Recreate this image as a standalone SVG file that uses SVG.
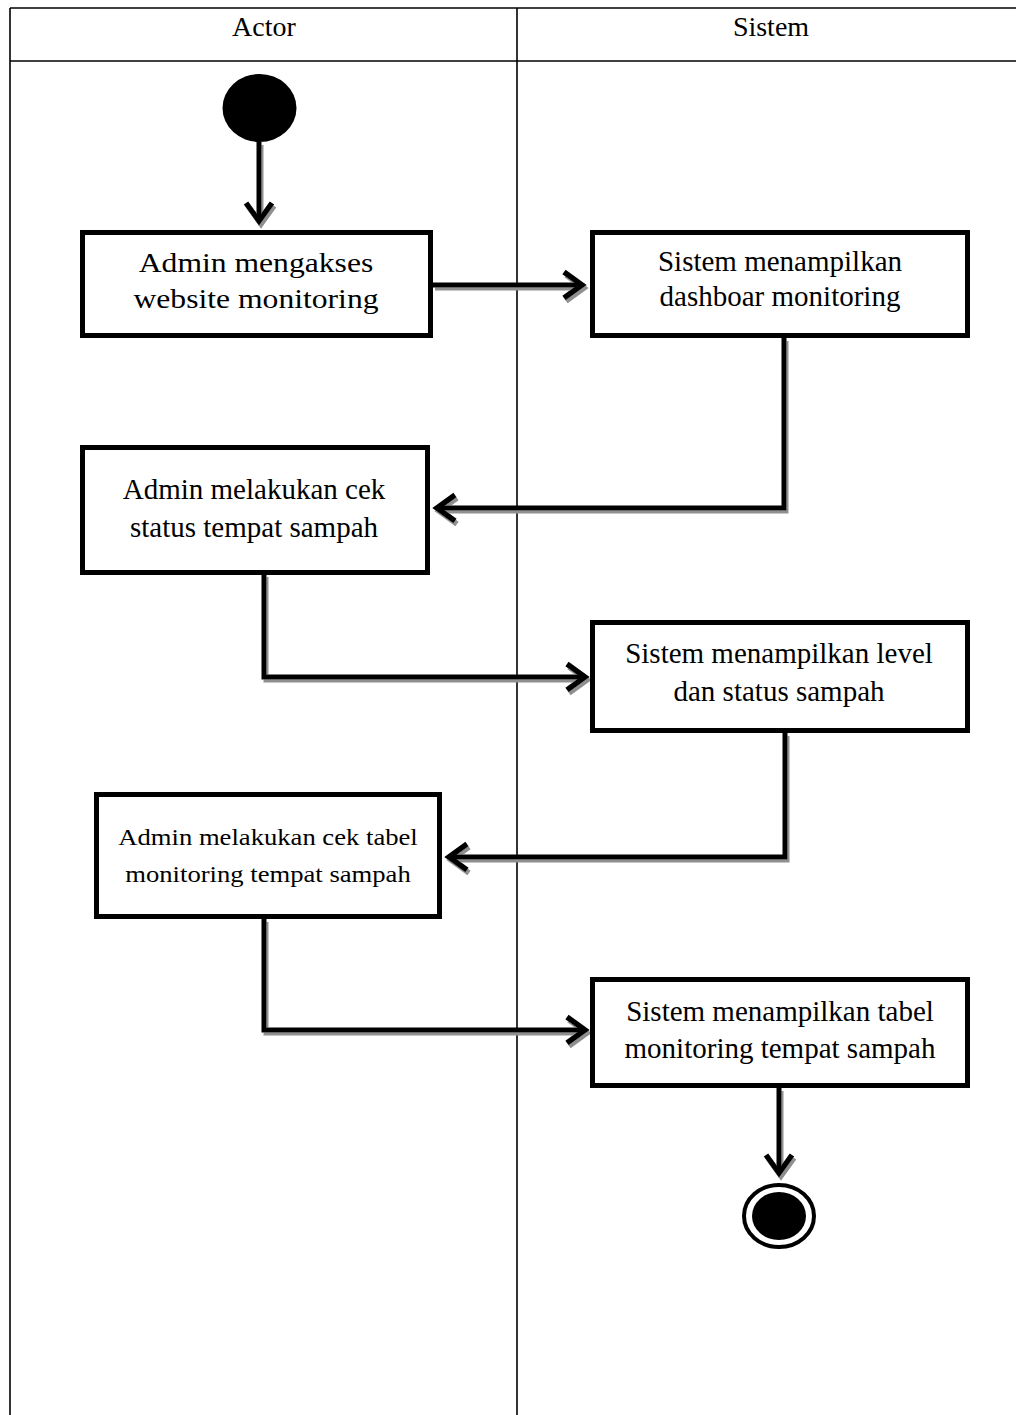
<svg xmlns="http://www.w3.org/2000/svg" width="1016" height="1415" viewBox="0 0 1016 1415">
  <defs>
    <style>
      .lane { fill: none; stroke: #000; stroke-width: 1.6; }
      .head { font-family: "Liberation Serif", "Times New Roman", serif; font-size: 28px; fill: #000; text-anchor: middle; }
      .box { fill: #fff; stroke: #000; stroke-width: 5; }
      .lbl { font-family: "Liberation Serif", "Times New Roman", serif; font-size: 29px; fill: #000; text-anchor: middle; }
      .lbl-big { font-size: 28px; }
      .lbl-small { font-size: 24px; }
      .flow { fill: none; stroke: #000; stroke-width: 5; stroke-linejoin: miter; marker-end: url(#chevron); }
    </style>
    <marker id="chevron" markerUnits="userSpaceOnUse" viewBox="-30 -20 40 40" refX="0" refY="0" markerWidth="40" markerHeight="40" orient="auto" overflow="visible">
      <path d="M -18 -13 L 0 0 L -18 13" fill="none" stroke="#000" stroke-width="5.5" stroke-linejoin="miter" stroke-linecap="butt"/>
    </marker>
    <filter id="shade" filterUnits="userSpaceOnUse" x="0" y="0" width="1016" height="1415">
      <feGaussianBlur in="SourceAlpha" stdDeviation="0.6" result="b"/>
      <feOffset in="b" dx="2" dy="3" result="o"/>
      <feFlood flood-color="#8f8f8f"/>
      <feComposite in2="o" operator="in" result="s"/>
      <feMerge>
        <feMergeNode in="s"/>
        <feMergeNode in="SourceGraphic"/>
      </feMerge>
    </filter>
  </defs>

  <rect width="1016" height="1415" fill="#fff"/>

  <!-- swimlane table -->
  <g id="lanes">
    <line class="lane" x1="10" y1="8" x2="1016" y2="8"/>
    <line class="lane" x1="10" y1="61" x2="1016" y2="61"/>
    <line class="lane" x1="10" y1="8" x2="10" y2="1415"/>
    <line class="lane" x1="517" y1="8" x2="517" y2="1415"/>
    <text class="head" x="264" y="36">Actor</text>
    <text class="head" x="771" y="36">Sistem</text>
  </g>

  <!-- connectors -->
  <g id="connectors" filter="url(#shade)">
    <path class="flow" d="M 259 142 L 259 221"/>
    <path class="flow" d="M 433 285 L 582 285"/>
    <path class="flow" d="M 784 338 L 784 508 L 437 508"/>
    <path class="flow" d="M 264 574 L 264 677 L 585 677"/>
    <path class="flow" d="M 785 733 L 785 857 L 449 857"/>
    <path class="flow" d="M 264 919 L 264 1030 L 585 1030"/>
    <path class="flow" d="M 779 1088 L 779 1173"/>
  </g>

  <!-- start node -->
  <g id="start">
    <ellipse cx="259.5" cy="108" rx="37" ry="34" fill="#000"/>
  </g>

  <g id="node-akses">
    <rect class="box" x="82.5" y="232.5" width="348" height="103"/>
    <text class="lbl lbl-big" transform="translate(256 272) scale(1.13 1)">Admin mengakses</text>
    <text class="lbl lbl-big" transform="translate(256 308) scale(1.13 1)">website monitoring</text>
  </g>

  <g id="node-dashboard">
    <rect class="box" x="592.5" y="232.5" width="375" height="103"/>
    <text class="lbl" x="780" y="271">Sistem menampilkan</text>
    <text class="lbl" x="780" y="306">dashboar monitoring</text>
  </g>

  <g id="node-cek-status">
    <rect class="box" x="82.5" y="447.5" width="345" height="125"/>
    <text class="lbl" x="254" y="499">Admin melakukan cek</text>
    <text class="lbl" x="254" y="537">status tempat sampah</text>
  </g>

  <g id="node-level">
    <rect class="box" x="592.5" y="622.5" width="375" height="108"/>
    <text class="lbl" x="779" y="663">Sistem menampilkan level</text>
    <text class="lbl" x="779" y="701">dan status sampah</text>
  </g>

  <g id="node-cek-tabel">
    <rect class="box" x="96.5" y="794.5" width="343" height="122"/>
    <text class="lbl lbl-small" transform="translate(268 845) scale(1.11 1)">Admin melakukan cek tabel</text>
    <text class="lbl lbl-small" transform="translate(268 882) scale(1.11 1)">monitoring tempat sampah</text>
  </g>

  <g id="node-tabel">
    <rect class="box" x="592.5" y="979.5" width="375" height="106"/>
    <text class="lbl" x="780" y="1021">Sistem menampilkan tabel</text>
    <text class="lbl" x="780" y="1058">monitoring tempat sampah</text>
  </g>

  <!-- end node -->
  <g id="end">
    <ellipse cx="779" cy="1216" rx="35" ry="31" fill="#fff" stroke="#000" stroke-width="4"/>
    <ellipse cx="779" cy="1216" rx="27" ry="24" fill="#000"/>
  </g>
</svg>
